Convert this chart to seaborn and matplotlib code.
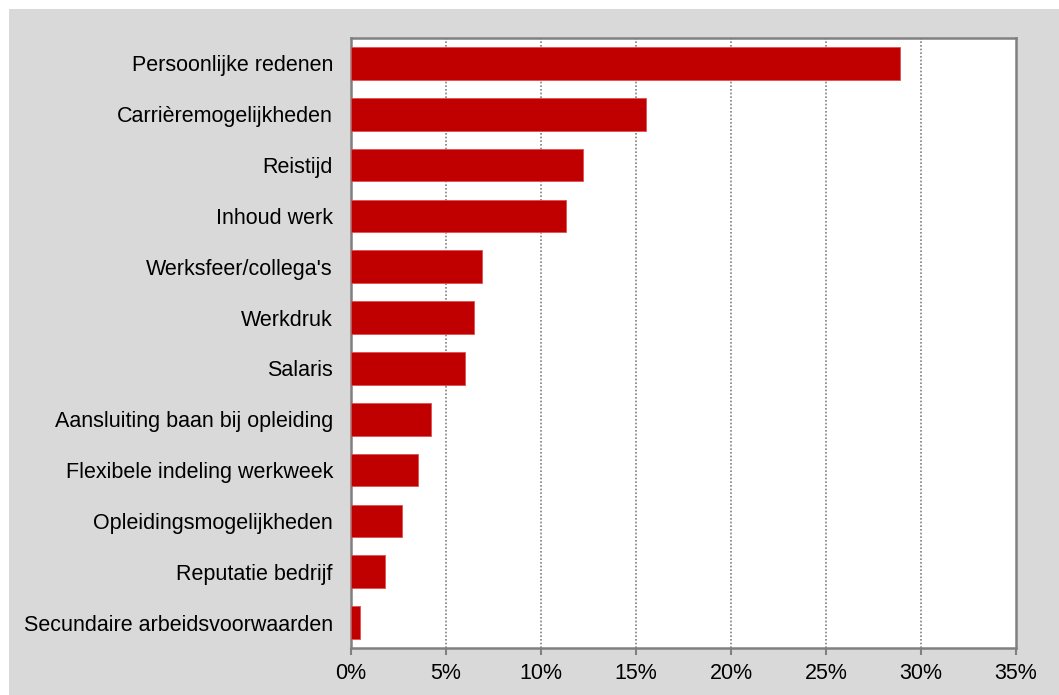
import matplotlib
matplotlib.use("Agg")
import matplotlib.pyplot as plt
import matplotlib.patches as mpatches
import pandas as pd
import seaborn as sns

reasons = [
    "Persoonlijke redenen",
    "Carrièremogelijkheden",
    "Reistijd",
    "Inhoud werk",
    "Werksfeer/collega's",
    "Werkdruk",
    "Salaris",
    "Aansluiting baan bij opleiding",
    "Flexibele indeling werkweek",
    "Opleidingsmogelijkheden",
    "Reputatie bedrijf",
    "Secundaire arbeidsvoorwaarden",
]
share = [28.9, 15.55, 12.2, 11.3, 6.9, 6.45, 6.0, 4.2, 3.55, 2.67, 1.78, 0.45]
xticks = [0, 5, 10, 15, 20, 25, 30, 35]
xtick_labels = ["0%", "5%", "10%", "15%", "20%", "25%", "30%", "35%"]

df = pd.DataFrame({"reason": reasons, "share": share})

sns.set_theme(style="white")
plt.rcParams["font.family"] = ["Liberation Sans", "DejaVu Sans"]

grey = "#808080"
fig = plt.figure(figsize=(10.59, 6.95), dpi=100, facecolor="white")
# grey panel behind the plot, leaving a thin white margin top-left
bg = mpatches.Rectangle((9 / 1059, 0), 1, 1 - 9 / 695, transform=fig.transFigure,
                        facecolor="#d9d9d9", edgecolor="none", zorder=-10)
fig.add_artist(bg)
ax = fig.add_axes([351 / 1059, 1 - 648 / 695, (1016 - 351) / 1059, (648 - 38) / 695])
ax.set_facecolor("white")

sns.barplot(data=df, x="share", y="reason", color="#c00000", saturation=1,
            width=0.64, edgecolor="#e05050", linewidth=0.6, ax=ax, zorder=3)

ax.set_xlim(0, 35)
ax.set_ylim(len(reasons) - 0.5, -0.5)
ax.set_xticks(xticks)
ax.set_xticklabels(xtick_labels)
ax.set_xlabel("")
ax.set_ylabel("")

for x in xticks[1:-1]:
    ax.axvline(x, color=grey, linestyle=(0, (1, 1.2)), linewidth=1.2, zorder=1)

for s in ax.spines.values():
    s.set_color(grey)
    s.set_linewidth(1.8)
    s.set_visible(True)

ax.tick_params(axis="x", direction="out", length=5, width=1.5, color=grey,
               labelsize=15.5, labelcolor="black", pad=6, bottom=True)
ax.tick_params(axis="y", length=0, labelsize=15.5, labelcolor="black", pad=13)

fig.savefig("out.png", dpi=100, facecolor=fig.get_facecolor())
